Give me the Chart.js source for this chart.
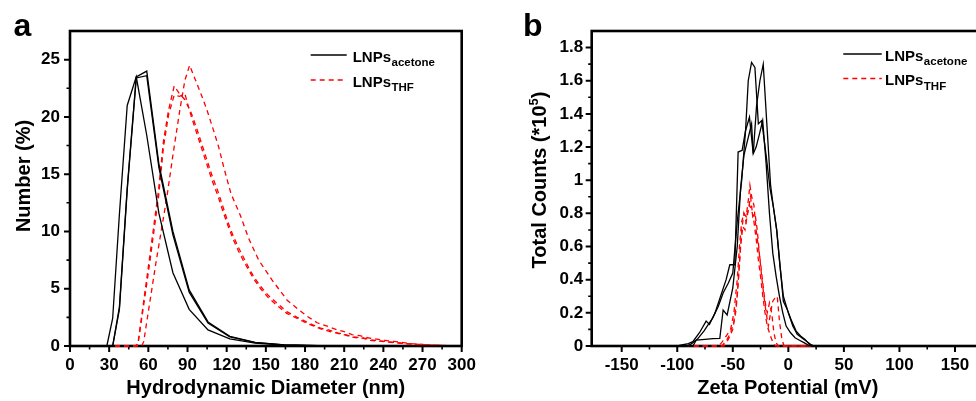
<!DOCTYPE html>
<html><head><meta charset="utf-8">
<script src="https://cdn.jsdelivr.net/npm/chart.js@4/dist/chart.umd.min.js"></script>
<style>
html,body{margin:0;padding:0;background:#fff;overflow:hidden;width:976px;height:401px;position:relative}
#wa{position:absolute;left:0;top:0;width:490px;height:401px}
#wb{position:absolute;left:490px;top:0;width:540px;height:401px}
canvas{display:block}
</style></head><body>
<div id="wa"><canvas id="ca" width="490" height="401"></canvas></div>
<div id="wb"><canvas id="cb" width="540" height="401"></canvas></div>
<script>
// ---------- Panel a: DLS number distribution ----------
const dlsX = [0, 24.36, 28.21, 32.67, 37.84, 43.82, 50.75, 58.77, 68.06, 78.82, 91.28, 105.7, 122.4, 141.8, 164.2, 190.1, 220.2, 255.0, 300];
const acetoneRun1 = [0, 0, 0, 2.4, 11.5, 21.0, 23.5, 18.4, 11.6, 6.4, 3.2, 1.4, 0.62, 0.25, 0.07, 0.01, 0, 0, 0];
const acetoneRun2 = [0, 0, 0, 0, 3.4, 13.8, 23.5, 24.0, 15.9, 10.0, 4.9, 2.1, 0.85, 0.32, 0.10, 0.02, 0, 0, 0];
const acetoneRun3 = [0, 0, 0, 0, 3.2, 13.6, 23.4, 23.6, 15.6, 9.7, 4.7, 2.0, 0.80, 0.30, 0.09, 0.02, 0, 0, 0];

const thfX12 = [0, 50, 52, 60, 67.8, 71.6, 75.5, 79.8, 84, 88, 93, 97, 101, 105, 109, 113, 117, 121, 125, 129, 133, 137, 141, 146, 152, 159, 166, 174, 183, 192, 198, 205, 211, 217, 224, 230, 237, 243, 250, 256, 269, 285, 300];
const thfRun1 = [0, 0, 0.2, 6.9, 13.6, 17.9, 20.6, 22.7, 22.0, 21.5, 20.3, 19.0, 17.6, 16.2, 14.8, 13.6, 12.2, 10.8, 9.6, 8.6, 7.7, 6.8, 6.0, 5.2, 4.4, 3.7, 3.0, 2.5, 2.0, 1.55, 1.4, 1.15, 1.0, 0.8, 0.72, 0.55, 0.45, 0.38, 0.3, 0.22, 0.12, 0.05, 0];
const thfRun2 = [0, 0, 0.1, 6.4, 13.0, 17.4, 20.2, 21.9, 21.8, 22.0, 20.0, 18.6, 17.2, 15.8, 14.4, 13.2, 11.8, 10.5, 9.3, 8.3, 7.4, 6.6, 5.8, 5.0, 4.2, 3.5, 2.85, 2.4, 1.9, 1.5, 1.3, 1.1, 0.95, 0.75, 0.68, 0.5, 0.42, 0.35, 0.28, 0.2, 0.1, 0.04, 0];
const thfX3 = [0, 55, 56.5, 60, 66, 74.2, 79, 84.4, 88, 91.6, 97.2, 101, 104.9, 110, 113.8, 118, 123.3, 130.5, 136.8, 144.5, 154.8, 166.3, 174, 181.6, 189.3, 198.2, 205, 210, 216, 222, 228, 235, 241, 248, 262, 278, 300];
const thfRun3 = [0, 0, 0.4, 3.0, 7.4, 13.0, 16.8, 20.8, 23.2, 24.5, 22.9, 21.8, 20.6, 18.8, 17.4, 15.5, 13.3, 11.4, 9.4, 7.5, 5.75, 4.0, 3.28, 2.6, 2.03, 1.68, 1.4, 1.25, 1.0, 0.9, 0.72, 0.6, 0.5, 0.4, 0.2, 0.08, 0];

const xTicksA = [0, 30, 60, 90, 120, 150, 180, 210, 240, 270, 300];
const xTickLabelsA = ['0', '30', '60', '90', '120', '150', '180', '210', '240', '270', '300'];
const yTicksA = [0, 5, 10, 15, 20, 25];
const yTickLabelsA = ['0', '5', '10', '15', '20', '25'];
const xMinorA = [15, 45, 75, 105, 135, 165, 195, 225, 255, 285];
const yMinorA = [2.5, 7.5, 12.5, 17.5, 22.5];

// ---------- Panel b: zeta potential ----------
const zetaXA = [-150, -100, -96, -90, -86, -80, -74, -71, -66, -61, -56, -52.7, -48.2, -45.2, -41.6, -38.5, -36.1, -33.1, -30.1, -27, -24, -20, -16.5, -13.5, -10.5, -7, -4.5, -1, 3, 7, 11, 15, 19, 22, 125];
const zetaAcetone1 = [0, 0, 0.006, 0.015, 0.026, 0.08, 0.15, 0.13, 0.2, 0.3, 0.4, 0.49, 0.49, 1.17, 1.18, 1.3, 1.6, 1.71, 1.68, 1.34, 1.36, 1.15, 0.95, 0.84, 0.7, 0.45, 0.27, 0.22, 0.15, 0.09, 0.06, 0.04, 0.01, 0, 0];
const zetaXB = [-150, -92, -88, -82, -76, -72, -68, -63, -58.7, -54, -50, -46, -42, -38.5, -35, -31.6, -28.6, -25.6, -22.6, -19, -16, -13.5, -10.5, -7.5, -4.5, 0, 4, 8, 12, 16, 20, 23, 125];
const zetaAcetone2 = [0, 0, 0.01, 0.04, 0.09, 0.13, 0.17, 0.24, 0.32, 0.38, 0.44, 0.75, 1.0, 1.3, 1.38, 1.16, 1.45, 1.6, 1.7, 1.3, 0.97, 0.84, 0.7, 0.48, 0.3, 0.2, 0.12, 0.07, 0.05, 0.03, 0.01, 0, 0];
const zetaXC = [-150, -86, -82.8, -75, -68, -61.7, -58.7, -55.1, -50, -46, -43, -40, -36, -33.1, -31.6, -29, -26, -23.1, -20, -17, -14, -11, -8, -5, -2, 2, 6, 10, 14, 18, 21, 125];
const zetaAcetone3 = [0, 0, 0.036, 0.04, 0.044, 0.046, 0.217, 0.187, 0.35, 0.6, 0.95, 1.15, 1.26, 1.34, 1.16, 1.2, 1.28, 1.36, 1.1, 0.8, 0.56, 0.42, 0.3, 0.2, 0.12, 0.08, 0.05, 0.035, 0.02, 0.005, 0, 0];

const zetaXR1 = [-150, -63, -60, -56, -52, -49, -46, -44, -42, -40, -38, -36, -34.6, -33, -31, -29, -27, -25, -23, -21, -19, -17, -15, -13, -11, -9, 125];
const zetaThf1 = [0, 0, 0.02, 0.06, 0.1, 0.2, 0.4, 0.6, 0.75, 0.8, 0.78, 0.88, 0.97, 0.9, 0.85, 0.7, 0.6, 0.5, 0.38, 0.27, 0.2, 0.26, 0.2, 0.08, 0.02, 0, 0];
const zetaXR2 = [-150, -60, -56, -52, -49, -46, -44, -42, -40, -38, -36, -34, -32, -30, -28, -26, -24, -22, -20, -18, -16, -14, -12, -10, -8, -6, -4, 125];
const zetaThf2 = [0, 0, 0.03, 0.08, 0.15, 0.3, 0.5, 0.7, 0.8, 0.75, 0.82, 0.9, 0.78, 0.8, 0.7, 0.55, 0.42, 0.3, 0.2, 0.12, 0.2, 0.27, 0.29, 0.3, 0.15, 0.05, 0, 0];
const zetaXR3 = [-150, -58, -54, -50, -47, -45, -43, -41, -39, -37, -35, -33, -31, -29, -27, -25, -23, -21, -19, -17, -15, -13, -11, 125];
const zetaThf3 = [0, 0, 0.04, 0.1, 0.22, 0.4, 0.6, 0.72, 0.7, 0.8, 0.85, 0.82, 0.75, 0.65, 0.52, 0.42, 0.3, 0.2, 0.12, 0.08, 0.04, 0.01, 0, 0];

const xTicksB = [-150, -100, -50, 0, 50, 100, 150];
const xTickLabelsB = ['-150', '-100', '-50', '0', '50', '100', '150'];
const yTicksB = [0, 0.2, 0.4, 0.6, 0.8, 1.0, 1.2, 1.4, 1.6, 1.8];
const yTickLabelsB = ['0', '0.2', '0.4', '0.6', '0.8', '1', '1.2', '1.4', '1.6', '1.8'];
const xMinorB = [-125, -75, -25, 25, 75, 125];
const yMinorB = [0.1, 0.3, 0.5, 0.7, 0.9, 1.1, 1.3, 1.5, 1.7];

const seriesNames = ['LNPs', 'LNPs'];
const seriesSubs = ['acetone', 'THF'];

// ---------- helpers ----------
const FONT = "'Liberation Sans', Arial, sans-serif";
const pts = (xs, ys) => xs.map((x, i) => ({x: x, y: ys[i]}));
const blackDs = (xs, ys) => ({data: pts(xs, ys), borderColor: '#000', borderWidth: 1.3, pointRadius: 0, fill: false, tension: 0, clip: false});
const redDs = (xs, ys) => ({data: pts(xs, ys), borderColor: '#ff0000', borderWidth: 1.3, borderDash: [5, 4], pointRadius: 0, fill: false, tension: 0, clip: false});

function decor(cfg) {
  return {
    id: 'decor',
    beforeDatasetsDraw(chart) {
      const ctx = chart.ctx, a = chart.chartArea, xs = chart.scales.x, ys = chart.scales.y;
      ctx.save();
      ctx.strokeStyle = '#000';
      ctx.lineWidth = 2.6;
      ctx.strokeRect(a.left, a.top, a.right - a.left, a.bottom - a.top);
      const tick = (arr, len, w, isX) => {
        ctx.lineWidth = w;
        ctx.beginPath();
        arr.forEach(v => {
          if (isX) { const p = xs.getPixelForValue(v); ctx.moveTo(p, a.bottom); ctx.lineTo(p, a.bottom + len); }
          else { const p = ys.getPixelForValue(v); ctx.moveTo(a.left, p); ctx.lineTo(a.left - len, p); }
        });
        ctx.stroke();
      };
      tick(cfg.xMajor, 6, 2, true);
      tick(cfg.xMinor, 3.5, 1.6, true);
      tick(cfg.yMajor, 6, 2, false);
      tick(cfg.yMinor, 3.5, 1.6, false);
      ctx.restore();
    },
    afterDraw(chart) {
      const ctx = chart.ctx;
      ctx.save();
      ctx.fillStyle = '#000';
      ctx.font = 'bold 32px ' + FONT;
      ctx.textAlign = 'left'; ctx.textBaseline = 'alphabetic';
      ctx.fillText(cfg.letter, cfg.letterX, cfg.letterY);
      ctx.font = 'bold 20px ' + FONT;
      ctx.textAlign = 'center';
      ctx.fillText(cfg.xTitle, cfg.xTitleX, cfg.xTitleY);
      ctx.translate(cfg.yTitleX, cfg.yTitleY);
      ctx.rotate(-Math.PI / 2);
      ctx.textAlign = 'left';
      ctx.font = 'bold 20px ' + FONT;
      const w1 = ctx.measureText(cfg.yTitle).width;
      let w2 = 0, w3 = 0;
      if (cfg.ySup) {
        ctx.font = 'bold 13px ' + FONT; w2 = ctx.measureText(cfg.ySup).width;
        ctx.font = 'bold 20px ' + FONT; w3 = ctx.measureText(cfg.yTitleEnd).width;
      }
      const sx = -(w1 + w2 + w3) / 2;
      ctx.fillText(cfg.yTitle, sx, 7);
      if (cfg.ySup) {
        ctx.font = 'bold 13px ' + FONT; ctx.fillText(cfg.ySup, sx + w1, -1);
        ctx.font = 'bold 20px ' + FONT; ctx.fillText(cfg.yTitleEnd, sx + w1 + w2, 7);
      }
      ctx.setTransform(1, 0, 0, 1, 0, 0);
      const L = cfg.legend;
      [0, 1].forEach(i => {
        const y = L.lineY[i];
        ctx.beginPath();
        ctx.lineWidth = 1.3;
        ctx.strokeStyle = i === 0 ? '#000' : '#ff0000';
        ctx.setLineDash(i === 0 ? [] : [5, 4]);
        ctx.moveTo(L.x0, y); ctx.lineTo(L.x1, y); ctx.stroke();
        ctx.setLineDash([]);
        ctx.fillStyle = '#000';
        ctx.textAlign = 'left'; ctx.textBaseline = 'alphabetic';
        ctx.font = 'bold 15px ' + FONT;
        ctx.fillText(seriesNames[i], L.tx, L.base[i]);
        const wn = ctx.measureText(seriesNames[i]).width;
        ctx.font = 'bold 11.5px ' + FONT;
        ctx.fillText(seriesSubs[i], L.tx + wn + 0.5, L.base[i] + 4.5);
      });
      ctx.restore();
    }
  };
}

function makeChart(id, datasets, sc, cfg) {
  return new Chart(document.getElementById(id), {
    type: 'line',
    data: {datasets: datasets},
    options: {
      responsive: false, animation: false, devicePixelRatio: 1,
      layout: {padding: {top: 31, right: sc.padRight, left: 0, bottom: 0}},
      plugins: {legend: {display: false}, tooltip: {enabled: false}, title: {display: false}},
      elements: {point: {radius: 0}, line: {tension: 0}},
      scales: {
        x: {
          type: 'linear', min: sc.xMin, max: sc.xMax,
          grid: {display: false, drawTicks: false, tickLength: 0}, border: {display: false},
          afterBuildTicks: s => { s.ticks = sc.xTicks.map(v => ({value: v})); },
          afterFit: s => { s.height = 55; s.paddingLeft = 0; s.paddingRight = 0; },
          ticks: {autoSkip: false, maxRotation: 0, minRotation: 0, padding: 9, color: '#000',
                  font: {family: FONT, weight: 'bold', size: 17},
                  callback: (v, i) => sc.xLabels[i]}
        },
        y: {
          type: 'linear', min: sc.yMin, max: sc.yMax,
          grid: {display: false, drawTicks: false, tickLength: 0}, border: {display: false},
          afterBuildTicks: s => { s.ticks = sc.yTicks.map(v => ({value: v})); },
          afterFit: s => { s.width = sc.yWidth; s.paddingTop = 0; s.paddingBottom = 0; },
          ticks: {autoSkip: false, padding: sc.yPad, color: '#000',
                  font: {family: FONT, weight: 'bold', size: 17},
                  callback: (v, i) => sc.yLabels[i]}
        }
      }
    },
    plugins: [decor(cfg)]
  });
}

makeChart('ca', [
  blackDs(dlsX, acetoneRun1), blackDs(dlsX, acetoneRun2), blackDs(dlsX, acetoneRun3),
  redDs(thfX12, thfRun1), redDs(thfX12, thfRun2), redDs(thfX3, thfRun3)
], {padRight: 28.3, xMin: 0, xMax: 300, yMin: 0, yMax: 27.5, xTicks: xTicksA, xLabels: xTickLabelsA,
    yTicks: yTicksA, yLabels: yTickLabelsA, yWidth: 70, yPad: 10},
{xMajor: xTicksA, xMinor: xMinorA, yMajor: yTicksA, yMinor: yMinorA,
 letter: 'a', letterX: 13.5, letterY: 36,
 xTitle: 'Hydrodynamic Diameter (nm)', xTitleX: 265.8, xTitleY: 394,
 yTitle: 'Number (%)', yTitleX: 23, yTitleY: 176,
 legend: {x0: 310.7, x1: 346.7, lineY: [55, 80], tx: 352.7, base: [61.7, 86.7]}});

makeChart('cb', [
  blackDs(zetaXA, zetaAcetone1), blackDs(zetaXB, zetaAcetone2), blackDs(zetaXC, zetaAcetone3),
  redDs(zetaXR1, zetaThf1), redDs(zetaXR2, zetaThf2), redDs(zetaXR3, zetaThf3)
], {padRight: 45, xMin: -177, xMax: 177, yMin: 0, yMax: 1.9, xTicks: xTicksB, xLabels: xTickLabelsB,
    yTicks: yTicksB, yLabels: yTickLabelsB, yWidth: 101.7, yPad: 8.5},
{xMajor: xTicksB, xMinor: xMinorB, yMajor: yTicksB, yMinor: yMinorB,
 letter: 'b', letterX: 33, letterY: 35.5,
 xTitle: 'Zeta Potential (mV)', xTitleX: 297.8, xTitleY: 394,
 yTitle: 'Total Counts (*10', ySup: '5', yTitleEnd: ')', yTitleX: 49, yTitleY: 180,
 legend: {x0: 353.3, x1: 391.7, lineY: [54, 78.5], tx: 395, base: [60.5, 85]}});
</script>
</body></html>
